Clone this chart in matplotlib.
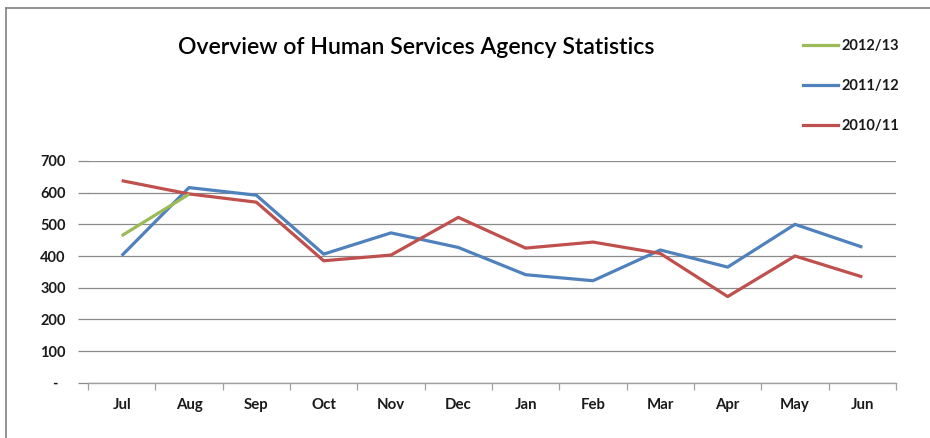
import matplotlib
matplotlib.use("Agg")
import matplotlib.pyplot as plt
from matplotlib.lines import Line2D
import numpy as np

months = ["Jul", "Aug", "Sep", "Oct", "Nov", "Dec", "Jan", "Feb", "Mar", "Apr", "May", "Jun"]
s2012_13 = [464, 595]
s2011_12 = [401, 616, 592, 406, 473, 427, 341, 322, 419, 365, 500, 428]
s2010_11 = [638, 596, 570, 385, 403, 522, 425, 444, 408, 272, 400, 334]
yticks = [0, 100, 200, 300, 400, 500, 600, 700]
ytick_labels = ["-  ", "100", "200", "300", "400", "500", "600", "700"]
series_names = ["2012/13", "2011/12", "2010/11"]

plt.rcParams['font.family'] = ['Lato', 'DejaVu Sans']

fig = plt.figure(figsize=(9.3, 4.38), dpi=100)
ax = fig.add_axes([88/930, 1-382.7/438, (896-88)/930, (382.7-161)/438])

x = np.arange(len(months))
green, blue, red = "#9BBB59", "#4F81BD", "#C0504D"
lw = 2.3
ax.plot(x, s2011_12, color=blue, lw=lw, zorder=3, solid_capstyle='butt')
ax.plot(x, s2010_11, color=red, lw=lw, zorder=4, solid_capstyle='butt')
ax.plot(x[:len(s2012_13)], s2012_13, color=green, lw=lw, zorder=5, solid_capstyle='butt')

ax.set_xlim(-0.5, len(months) - 0.5)
ax.set_ylim(0, 700)
ax.set_yticks(yticks)
ax.set_yticklabels(ytick_labels)
ax.set_xticks(x)
ax.set_xticklabels(months)
ax.set_xticks(np.arange(-0.5, len(months)), minor=True)

grid_c = "#8a8a8a"
ax.grid(axis='y', color=grid_c, lw=0.9, zorder=1)
for s in ['top', 'right', 'left']:
    ax.spines[s].set_visible(False)
ax.spines['bottom'].set_color("#a0a0a0")
ax.spines['bottom'].set_linewidth(1.0)
ax.spines['bottom'].set_zorder(2)

ax.tick_params(axis='x', which='major', length=0, pad=11, labelsize=10.8, labelcolor='#1a1a1a')
ax.tick_params(axis='x', which='minor', length=5, width=0.9, color="#a0a0a0")
ax.tick_params(axis='y', length=7, width=0.9, color=grid_c, pad=9, labelsize=10.5, labelcolor='#1a1a1a')
for lab in ax.get_xticklabels() + ax.get_yticklabels():
    lab.set_fontweight('bold')

fig.text(416/930, 1-47/438, "Overview of Human Services Agency Statistics",
         ha='center', va='center', fontsize=16.6, fontweight='semibold', color='black')

handles = [Line2D([], [], color=green, lw=lw),
           Line2D([], [], color=blue, lw=lw),
           Line2D([], [], color=red, lw=lw)]
leg = fig.legend(handles, series_names, loc='upper left', bbox_to_anchor=(797/930, 1-33/438),
                 frameon=False, fontsize=10.5, handlelength=2.4, handletextpad=0.25,
                 labelspacing=1.78, borderaxespad=0)
for t in leg.get_texts():
    t.set_fontweight('bold')
    t.set_color('#1a1a1a')

# chart frame (top and left edges visible)
fig.add_artist(Line2D([5.5/930, 5.5/930], [0, 1-8/438], color='#808080', lw=1.2))
fig.add_artist(Line2D([5.5/930, 1], [1-8/438, 1-8/438], color='#808080', lw=1.2))

fig.savefig("out.png", dpi=100)
